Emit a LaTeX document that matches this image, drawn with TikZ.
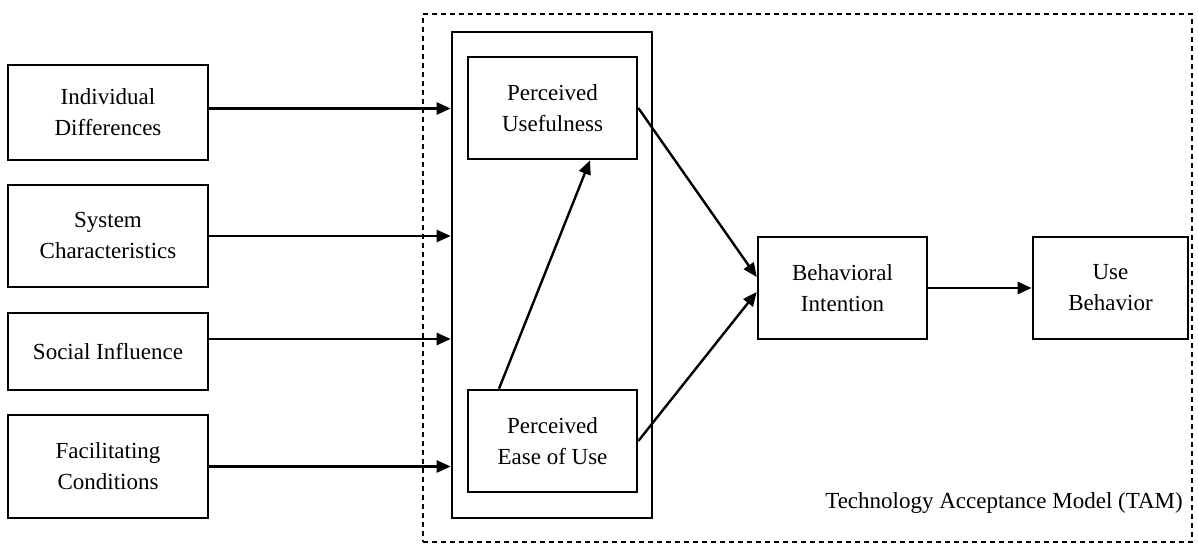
\documentclass[tikz,border=0pt]{standalone}
\usepackage{fontspec}
\setmainfont{Liberation Serif}
\usetikzlibrary{positioning,arrows.meta}

\begin{document}
\begin{tikzpicture}[x=0.5pt, y=-0.5pt,
  box/.style={draw, line width=1.3pt, align=center, inner sep=0pt,
    font=\fontsize{11.5}{15.5}\selectfont},
  arr/.style={line width=1.2pt, -{Triangle[length=7pt,width=6pt]}}]
  \useasboundingbox (0,0) rectangle (1198,544);
  % frames
  \node[draw, dashed, dash pattern=on 2.5pt off 2pt, line width=1pt,
    minimum width=384.5pt, minimum height=264pt] (tam) at (807.5,278) {};
  \node[box, minimum width=100pt, minimum height=243pt] (inner) at (552,275) {};
  % external variables
  \node[box, minimum width=100pt, minimum height=47.5pt] (ind) at (108,112.5) {Individual\\Differences};
  \node[box, minimum width=100pt, minimum height=51pt] (sys) at (108,236) {System\\Characteristics};
  \node[box, minimum width=100pt, minimum height=38.5pt] (soc) at (108,351.5) {Social Influence};
  \node[box, minimum width=100pt, minimum height=51.5pt] (fac) at (108,466.5) {Facilitating\\Conditions};
  % TAM
  \node[box, minimum width=84.5pt, minimum height=51pt] (pu) at (552.5,108) {Perceived\\Usefulness};
  \node[box, minimum width=84.5pt, minimum height=51pt] (peou) at (552.5,441) {Perceived\\Ease of Use};
  \node[box, minimum width=84.5pt, minimum height=51pt] (bi) at (842.5,288) {Behavioral\\Intention};
  \node[box, minimum width=77.5pt, minimum height=51pt] (ub) at (1110.5,288) {Use\\Behavior};
  \node[font=\fontsize{11.5}{15.5}\selectfont, inner sep=0pt] (tamlabel) at (1004,503) {Technology Acceptance Model (TAM)};
  % arrows
  \draw[arr] ([yshift=2pt]ind.east) -- ([yshift=2pt]ind.east -| inner.west);
  \draw[arr] (sys.east) -- (sys.east -| inner.west);
  \draw[arr] ([yshift=6.25pt]soc.east) -- ([yshift=6.25pt]soc.east -| inner.west);
  \draw[arr] (fac.east) -- (fac.east -| inner.west);
  \draw[arr] ([xshift=-26.75pt]peou.north) -- ([xshift=18.75pt]pu.south);
  \draw[arr] (pu.east) -- ([yshift=5.5pt]bi.west);
  \draw[arr] (peou.east) -- ([yshift=-2pt]bi.west);
  \draw[arr] (bi.east) -- (ub.west);
\end{tikzpicture}
\end{document}
